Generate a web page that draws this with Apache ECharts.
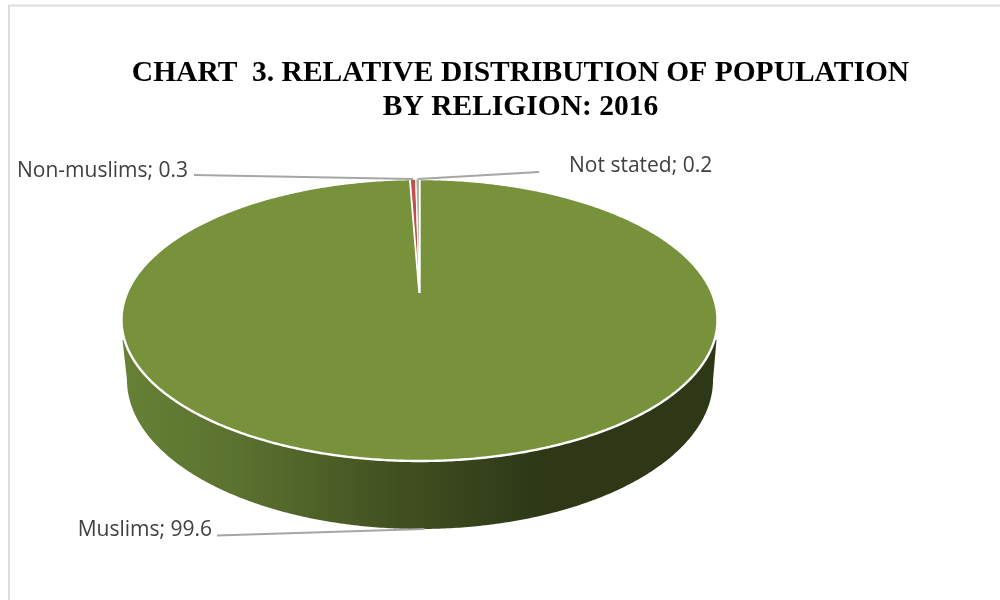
<!DOCTYPE html>
<html>
<head>
<meta charset="utf-8">
<style>html,body{margin:0;padding:0;background:#fff}#c{width:1000px;height:600px}</style>
<script src="https://cdn.jsdelivr.net/npm/echarts@6/dist/echarts.min.js"></script>
</head>
<body>
<div id="c"></div>
<script>
const titleLines = ['CHART  3. RELATIVE DISTRIBUTION OF POPULATION', 'BY RELIGION: 2016'];
const categories = ['Muslims', 'Non-muslims', 'Not stated'];
const values = [99.6, 0.3, 0.2];
const colors = ['#77923b', '#c0504d', '#a9b59a'];

// projected-disc layout (page pixels)
const top_ = {cx: 419.5, cy: 320, rx: 298, ry: 141, apexY: 293};
const low = {cx: 420, cy: 380, rx: 293, ry: 149};
const leaderEnd = [[217, 535.5], [194, 175], [539, 172]];
const labelAnchor = [[212, 530, 'right'], [188, 171, 'right'], [569, 166.5, 'left']];

const total = values.reduce((a, b) => a + b, 0);
function startFrac(i) { let s = 0; for (let k = 0; k < i; k++) s += values[k]; return s / total; }
function pt(e, a) { return [e.cx + e.rx * Math.sin(a), e.cy - e.ry * Math.cos(a)]; }
function arc(e, a0, a1) {
  const n = Math.max(2, Math.ceil(Math.abs(a1 - a0) / 0.01)), out = [];
  for (let k = 0; k <= n; k++) out.push(pt(e, a0 + (a1 - a0) * k / n));
  return out;
}

function renderItem(params, api) {
  const i = params.dataIndex;
  const a0 = startFrac(i) * 2 * Math.PI;
  const a1 = a0 + api.value(0) / total * 2 * Math.PI;
  const mid = (a0 + a1) / 2;
  const children = [];
  if (i === 0) {
    const rim = arc(low, Math.PI * 0.5, Math.PI * 1.5);
    const wall = [[716.5, 340]].concat(rim, [[122.5, 340]]);
    children.push({
      type: 'polygon',
      shape: {points: wall},
      style: {
        fill: {
          type: 'linear', x: 122, y: 0, x2: 717, y2: 0, global: true,
          colorStops: [
            {offset: 0, color: '#668136'},
            {offset: 0.2, color: '#5a712f'},
            {offset: 0.47, color: '#414f20'},
            {offset: 0.7, color: '#2e3817'},
            {offset: 1, color: '#2e3817'}
          ]
        }
      }
    });
  }
  const pts = [[top_.cx, top_.apexY]].concat(arc(top_, a0, a1));
  children.push({
    type: 'polygon',
    shape: {points: pts},
    style: {fill: colors[i], stroke: '#fff', lineWidth: i === 0 ? 2.4 : 1.2, lineJoin: 'miter'}
  });
  const anchor = i === 0 ? pt(low, mid) : pt(top_, mid);
  children.push({
    type: 'polyline',
    z2: 5,
    shape: {points: [leaderEnd[i], anchor]},
    style: {fill: null, stroke: '#a6a6a6', lineWidth: 1.9}
  });
  children.push({
    type: 'text',
    z2: 6,
    style: {
      text: categories[i] + '; ' + api.value(0),
      x: labelAnchor[i][0], y: labelAnchor[i][1],
      align: labelAnchor[i][2], verticalAlign: 'middle',
      fill: '#404040', font: '21px "Open Sans", sans-serif'
    }
  });
  return {type: 'group', children};
}

const chart = echarts.init(document.getElementById('c'), null, {renderer: 'canvas'});
chart.setOption({
  animation: false,
  backgroundColor: '#fff',
  title: {
    text: titleLines.join('\n'),
    left: 515.5, top: 51, textAlign: 'center',
    textStyle: {fontFamily: '"Liberation Serif", serif', fontWeight: 'bold', fontSize: 29.5, lineHeight: 34.5, color: '#000'}
  },
  graphic: [{
    type: 'polyline', silent: true,
    shape: {points: [[9, 600], [9, 5.5], [1000, 5.5]]},
    style: {fill: null, stroke: '#dddddd', lineWidth: 2}
  }],
  series: [{
    type: 'custom',
    coordinateSystem: 'none',
    renderItem,
    data: values.map(v => [v]),
    silent: true
  }]
});
</script>
</body>
</html>
